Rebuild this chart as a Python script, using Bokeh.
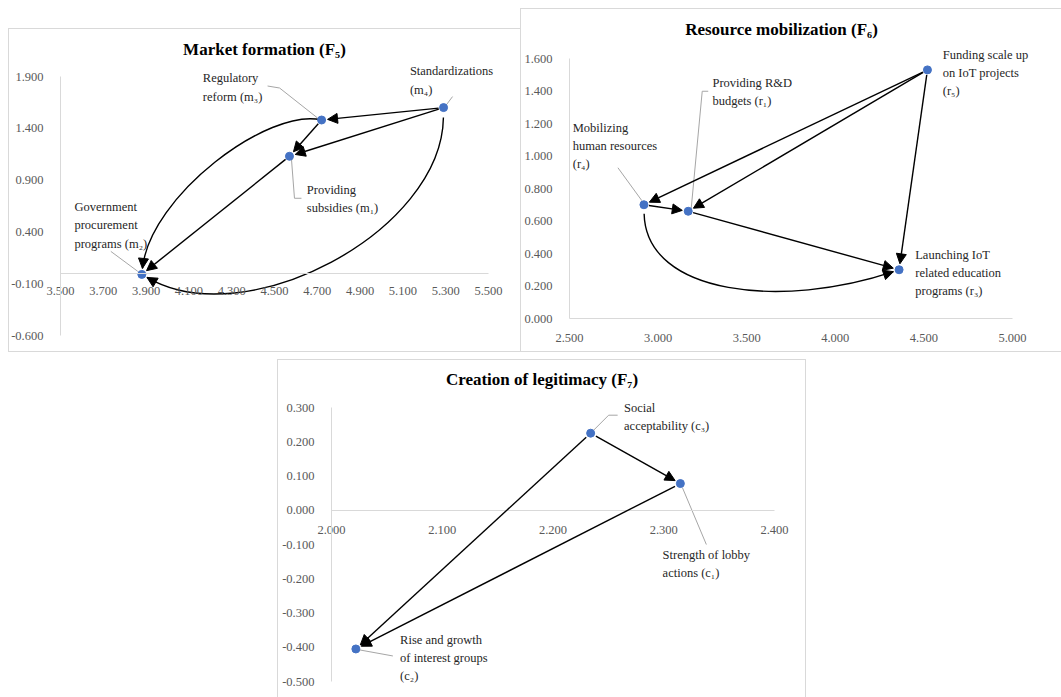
import numpy as np
from bokeh.plotting import figure
from bokeh.models import (Range1d, FixedTicker, NumeralTickFormatter, Arrow, NormalHead,
                          Spacer, ColumnDataSource, LabelSet)
from bokeh.layouts import row, column
from bokeh.embed import file_html
from bokeh.resources import INLINE
from bokeh.core.properties import value

# ---------------- data ----------------
# Market formation (F5)
f5_codes = ["m1", "m2", "m3", "m4"]
f5_text = ["Providing\nsubsidies (m\u2081)", "Government\nprocurement\nprograms (m\u2082)",
           "Regulatory\nreform (m\u2083)", "Standardizations\n(m\u2084)"]
f5_x = [4.57, 3.88, 4.72, 5.29]
f5_y = [1.13, -0.01, 1.48, 1.60]
f5_xticks = [3.5, 3.7, 3.9, 4.1, 4.3, 4.5, 4.7, 4.9, 5.1, 5.3, 5.5]
f5_yticks = [-0.6, -0.1, 0.4, 0.9, 1.4, 1.9]
f5_arrows = [("m4", "m3"), ("m4", "m1"), ("m3", "m1"), ("m1", "m2")]
f5_curved = [("m3", "m2"), ("m4", "m2")]

# Resource mobilization (F6)
f6_codes = ["r1", "r3", "r4", "r5"]
f6_text = ["Providing R&D\nbudgets (r\u2081)", "Launching IoT\nrelated education\nprograms (r\u2083)",
           "Mobilizing\nhuman resources\n(r\u2084)", "Funding scale up\non IoT projects\n(r\u2085)"]
f6_x = [3.17, 4.36, 2.92, 4.52]
f6_y = [0.66, 0.30, 0.70, 1.53]
f6_xticks = [2.5, 3.0, 3.5, 4.0, 4.5, 5.0]
f6_yticks = [0.0, 0.2, 0.4, 0.6, 0.8, 1.0, 1.2, 1.4, 1.6]
f6_arrows = [("r5", "r4"), ("r5", "r1"), ("r5", "r3"), ("r4", "r1"), ("r1", "r3")]
f6_curved = [("r4", "r3")]

# Creation of legitimacy (F7)
f7_codes = ["c1", "c2", "c3"]
f7_text = ["Strength of lobby\nactions (c\u2081)", "Rise and growth\nof interest groups\n(c\u2082)",
           "Social\nacceptability (c\u2083)"]
f7_x = [2.315, 2.022, 2.234]
f7_y = [0.078, -0.405, 0.225]
f7_xticks = [2.0, 2.1, 2.2, 2.3, 2.4]
f7_yticks = [-0.5, -0.4, -0.3, -0.2, -0.1, 0.0, 0.1, 0.2, 0.3]
f7_arrows = [("c3", "c1"), ("c3", "c2"), ("c1", "c2")]
f7_curved = []

# ---------------- layout / style ----------------
FONT = "Liberation Serif"
GRID = "#d9d9d9"

# axis_box: distance (px) from figure edges to the tick extents (left, right, top, bottom)
F5_STYLE = dict(title="Market formation (F\u2085)", size=(512, 324), axis_box=(52, 32, 48, 17),
                frame_top=36, frame_right=0, title_standoff=12, x_at=0.0,
                x_standoff=8, sides="tlb",
                label_off={"m1": (53, 43), "m2": (-31, -49), "m3": (-89, -32.5), "m4": (8, -27)},
                leaders={"m1": [(2, 3), (5, 42), (12, 42)], "m2": [(-4, -3), (-31, -23)],
                         "m3": [(-4, -2), (-42, -32), (-54, -34)], "m4": [(3, -3), (9, -11)]},
                curves={("m3", "m2"): (0.133, -0.186, 0.757, -0.230, 0),
                        ("m4", "m2"): (0.179, 0.313, 0.823, 0.300, 10)},
                gap_start=5, gap_end=6)
F6_STYLE = dict(title="Resource mobilization (F\u2086)", size=(541, 344), axis_box=(49, 49, 50, 34),
                frame_top=36, frame_right=19, title_standoff=11, x_at=0.0,
                x_standoff=9, sides="tlb",
                label_off={"r1": (64, -119.5), "r3": (59, 3), "r4": (-29, -59), "r5": (58, 3)},
                leaders={"r1": [(3, -3), (14, -120), (20, -120)], "r4": [(-2, -4), (-26, -37)]},
                curves={("r4", "r3"): (0.093, -0.333, 0.612, -0.252, 9)},
                gap_start=5, gap_end=6)
F7_STYLE = dict(title="Creation of legitimacy (F\u2087)", size=(529, 338), axis_box=(54, 32, 48, 16),
                frame_top=36, frame_right=0, title_standoff=13, x_at=0.0,
                x_standoff=10, sides="tlr",
                label_off={"c1": (26, 80.5), "c2": (88, 9), "c3": (76, -16.5)},
                leaders={"c1": [(2, 4), (26, 61)], "c2": [(4, 1), (37, 7)],
                         "c3": [(3, -3), (18, -18), (27, -18)]},
                curves={}, gap_start=6, gap_end=6)


def unit(v):
    return v / np.hypot(v[0], v[1])


def build(st, codes, texts, xs, ys, xticks, yticks, arrows, curved):
    W, H = st["size"]
    L, R, T, B = st["axis_box"]
    FT, FR = st["frame_top"], st["frame_right"]
    x0, x1 = xticks[0], xticks[-1]
    y0, y1 = yticks[0], yticks[-1]
    kx = (W - L - R) / (x1 - x0)
    ky = (H - T - B) / (y1 - y0)

    def to_px(x, y):
        return np.array([(x - x0) * kx, (y - y0) * ky])

    def to_data(P):
        return P[0] / kx + x0, P[1] / ky + y0

    pos = {c: to_px(x, y) for c, x, y in zip(codes, xs, ys)}

    xr = Range1d(x0 - L / kx, x1 + (R - FR) / kx)
    yr = Range1d(y0 - B / ky, y1 + (T - FT) / ky)
    p = figure(width=W, height=H, x_range=xr, y_range=yr,
               output_backend="svg", toolbar_location=None,
               min_border_left=0, min_border_right=FR, min_border_top=FT, min_border_bottom=0)
    p.title.text = st["title"]
    p.title.align = "center"
    p.title.standoff = st["title_standoff"]
    p.title.text_font = FONT
    p.title.text_font_size = "17px"
    p.title.text_font_style = "bold"
    p.title.text_color = "black"
    p.outline_line_color = None
    p.xgrid.visible = False
    p.ygrid.visible = False
    p.background_fill_color = None
    p.border_fill_color = None

    for ax, ticks in ((p.xaxis, xticks), (p.yaxis, yticks)):
        ax.ticker = FixedTicker(ticks=ticks)
        ax.formatter = NumeralTickFormatter(format="0.000")
        ax.major_tick_line_color = None
        ax.minor_tick_line_color = None
        ax.axis_line_color = GRID
        ax.major_label_text_font = FONT
        ax.major_label_text_font_size = "12.5px"
        ax.major_label_text_color = "#595959"
        ax.bounds = (ticks[0], ticks[-1])
    p.yaxis.major_label_standoff = 11
    p.xaxis.major_label_standoff = st["x_standoff"]
    p.xaxis.fixed_location = st["x_at"]
    p.yaxis.fixed_location = x0

    # leader lines (grey)
    lxs, lys = [], []
    for c, offs in st["leaders"].items():
        pts = [to_data(pos[c] + np.array([dx, -dy])) for dx, dy in offs]
        lxs.append([q[0] for q in pts])
        lys.append([q[1] for q in pts])
    if lxs:
        p.multi_line(lxs, lys, line_color="#a6a6a6", line_width=1)

    # straight arrows
    sx0, sy0, sx1, sy1 = [], [], [], []
    for a, b in arrows:
        A, Bp = pos[a], pos[b]
        u = unit(Bp - A)
        S = to_data(A + u * st["gap_start"])
        E = to_data(Bp - u * st["gap_end"])
        sx0.append(S[0]); sy0.append(S[1]); sx1.append(E[0]); sy1.append(E[1])

    # curved arrows
    bz = dict(x0=[], y0=[], x1=[], y1=[], cx0=[], cy0=[], cx1=[], cy1=[])
    for a, b in curved:
        a1, b1, a2, b2, s0 = st["curves"][(a, b)]
        P0, P3 = pos[a], pos[b]
        d = P3 - P0
        n = np.array([-d[1], d[0]])
        P1 = P0 + a1 * d + b1 * n
        P2 = P0 + a2 * d + b2 * n
        P0 = P0 + s0 * unit(P1 - P0)
        P3e = P3 + st["gap_end"] * unit(P2 - P3)
        for key, P in (("x0", P0), ("x1", P3e), ("cx0", P1), ("cx1", P2)):
            dd = to_data(P)
            bz[key].append(dd[0])
            bz[key.replace("x", "y")].append(dd[1])
        S = to_data(P3e + 4 * unit(P2 - P3))
        E = to_data(P3e)
        sx0.append(S[0]); sy0.append(S[1]); sx1.append(E[0]); sy1.append(E[1])
    if bz["x0"]:
        p.bezier(source=ColumnDataSource(bz), x0="x0", y0="y0", x1="x1", y1="y1",
                 cx0="cx0", cy0="cy0", cx1="cx1", cy1="cy1",
                 line_color="black", line_width=1.4)

    asrc = ColumnDataSource(dict(xs=sx0, ys=sy0, xe=sx1, ye=sy1))
    p.add_layout(Arrow(source=asrc, x_start="xs", y_start="ys", x_end="xe", y_end="ye",
                       line_color="black", line_width=1.4,
                       end=NormalHead(size=10, fill_color="black", line_color="black",
                                      line_width=1)))

    # points
    p.scatter(xs, ys, size=8, fill_color="#4472C4", line_color="#4472C4")

    # labels
    lx, ly = [], []
    for c in codes:
        dx, dy = st["label_off"][c]
        q = to_data(pos[c] + np.array([dx, -dy]))
        lx.append(q[0]); ly.append(q[1])
    lsrc = ColumnDataSource(dict(x=lx, y=ly, t=texts))
    p.add_layout(LabelSet(source=lsrc, x="x", y="y", text="t", text_align="center",
                          text_baseline="middle", text_font=value(FONT),
                          text_font_size=value("12.5px"), text_color="#262626",
                          text_line_height=1.3))

    sh = []
    if "t" in st["sides"]:
        sh.append("inset 0 1px 0 0 " + GRID)
    if "l" in st["sides"]:
        sh.append("inset 1px 0 0 0 " + GRID)
    if "b" in st["sides"]:
        sh.append("inset 0 -1px 0 0 " + GRID)
    if "r" in st["sides"]:
        sh.append("inset -1px 0 0 0 " + GRID)
    p.styles = {"background-color": "white", "box-shadow": ", ".join(sh)}
    return p


p5 = build(F5_STYLE, f5_codes, f5_text, f5_x, f5_y, f5_xticks, f5_yticks, f5_arrows, f5_curved)
p6 = build(F6_STYLE, f6_codes, f6_text, f6_x, f6_y, f6_xticks, f6_yticks, f6_arrows, f6_curved)
p7 = build(F7_STYLE, f7_codes, f7_text, f7_x, f7_y, f7_xticks, f7_yticks, f7_arrows, f7_curved)

top = row(Spacer(width=8, height=352),
          column(Spacer(width=512, height=28), p5),
          column(Spacer(width=541, height=8), p6))
bottom = row(Spacer(width=277, height=338), p7)
layout = column(top, Spacer(width=1061, height=7), bottom)

open("out.html", "w").write(file_html(layout, INLINE))
